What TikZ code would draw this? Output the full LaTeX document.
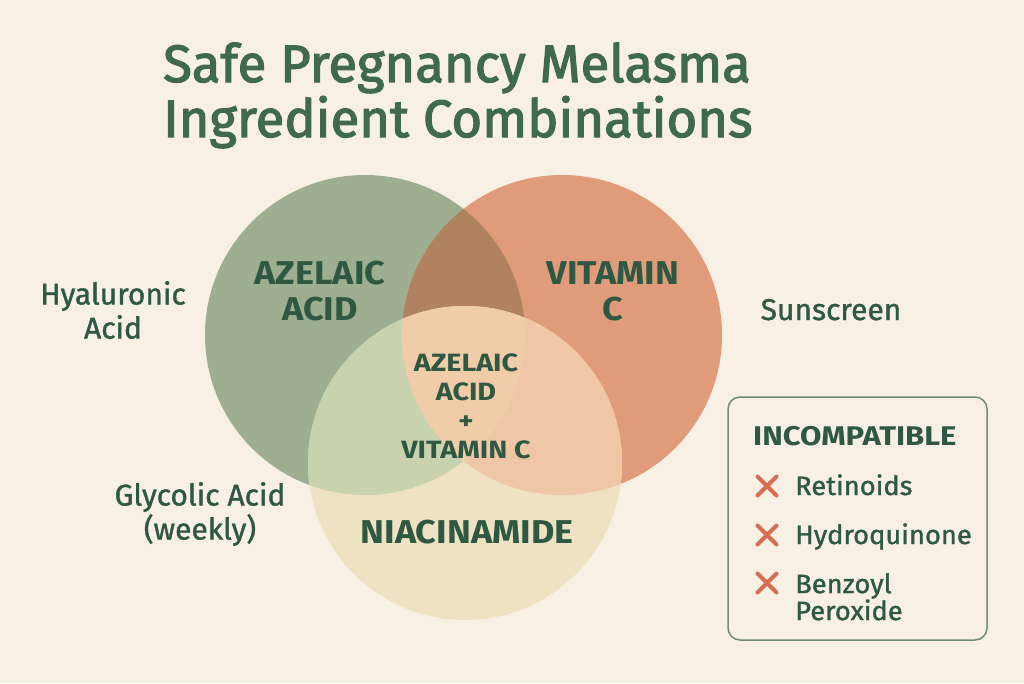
\documentclass[tikz,border=0pt]{standalone}
\usepackage{fontspec}
\setmainfont{Fira Sans}
\newfontfamily\medf{Fira Sans}[FakeBold=1.2]
\newfontfamily\boxf{Fira Sans}[FakeBold=1.2,FakeStretch=1.03]
\newfontfamily\titf{Fira Sans}[FakeBold=2.3]
\newfontfamily\bldf{Fira Sans Bold}[FakeStretch=1.09]
\newfontfamily\bldw{Fira Sans Bold}[FakeStretch=1.15]
\definecolor{bg}{HTML}{F8F0E4}
\definecolor{titc}{HTML}{3F6A4F}
\definecolor{txtc}{HTML}{2F5843}
\definecolor{gcol}{HTML}{9DAF90}
\definecolor{ocol}{HTML}{E09C7A}
\definecolor{ycol}{HTML}{EFE2C2}
\definecolor{gocol}{HTML}{B0825F}
\definecolor{gycol}{HTML}{C8D2AE}
\definecolor{oycol}{HTML}{F0C7A6}
\definecolor{allcol}{HTML}{F1CCA8}
\definecolor{boxc}{HTML}{6F8A77}
\definecolor{xcol}{HTML}{D4704F}
\begin{document}
\begin{tikzpicture}[x=1pt,y=-1pt,
  titletext/.style={anchor=base west,inner sep=0pt,text=titc,font=\titf\fontsize{52.6}{60}\selectfont},
  biglabel/.style={align=center,inner sep=0pt,text=txtc,font=\bldf\fontsize{33}{36}\selectfont},
  midlabel/.style={align=center,inner sep=0pt,text=txtc,font=\bldw\fontsize{25}{29}\selectfont},
  sidelabel/.style={align=center,inner sep=0pt,text=txtc,font=\medf\fontsize{30}{34}\selectfont},
  boxtext/.style={anchor=base west,align=left,inner sep=0pt,text=txtc,font=\boxf\fontsize{26.5}{27}\selectfont},
  boxhead/.style={anchor=base west,inner sep=0pt,text=txtc,font=\bldw\fontsize{27}{27}\selectfont},
  pics/xmark/.style={code={\draw[xcol,line width=4pt,line cap=round] (-9.5,-9.5)--(9.5,9.5) (-9.5,9.5)--(9.5,-9.5);}}
]
\useasboundingbox (0,0) rectangle (1024,683);
\fill[bg] (0,0) rectangle (1024,683);
% circle centres
\coordinate (cg) at (365,335);
\coordinate (co) at (562,335);
\coordinate (cy) at (465,463);
\fill[gcol] (cg) circle[radius=160pt];
\fill[ocol] (co) circle[radius=160pt];
\fill[ycol] (cy) circle[radius=157pt];
\begin{scope}\clip (cg) circle[radius=160pt]; \fill[gocol] (co) circle[radius=160pt];\end{scope}
\begin{scope}\clip (cg) circle[radius=160pt]; \fill[gycol] (cy) circle[radius=157pt];\end{scope}
\begin{scope}\clip (co) circle[radius=160pt]; \fill[oycol] (cy) circle[radius=157pt];\end{scope}
\begin{scope}\clip (cg) circle[radius=160pt]; \clip (co) circle[radius=160pt]; \fill[allcol] (cy) circle[radius=157pt];\end{scope}
% title
\node[titletext] (t1) at (163,82) {Safe Pregnancy Melasma};
\node[titletext] (t2) at (163,137) {Ingredient Combinations};
% circle labels
\node[biglabel] (aza) at (320,291) {AZELAIC\\ACID};
\node[biglabel] (vitc) at (613,291) {VITAMIN\\C};
\node[midlabel] (mid) at (466,406) {AZELAIC\\ACID\\+\\VITAMIN C};
\node[biglabel,anchor=base] (nia) at (467,543) {NIACINAMIDE};
% side labels
\node[sidelabel] (hya) at (113,310) {Hyaluronic\\Acid};
\node[sidelabel] (gly) at (200,514) {Glycolic Acid\\(weekly)};
\node[sidelabel,anchor=base] (sun) at (831,320) {Sunscreen};
% box
\draw[boxc,line width=1.5pt,rounded corners=12pt] (728,397) rectangle (987,640);
\node[boxhead] (inc) at (753,445) {INCOMPATIBLE};
\pic at (767,486) {xmark};
\node[boxtext] (ret) at (795,495) {Retinoids};
\pic at (767,535) {xmark};
\node[boxtext] (hyd) at (795,544) {Hydroquinone};
\pic at (767,583) {xmark};
\node[boxtext,anchor=north west] (ben) at (795,573) {Benzoyl\\Peroxide};
\end{tikzpicture}
\end{document}
